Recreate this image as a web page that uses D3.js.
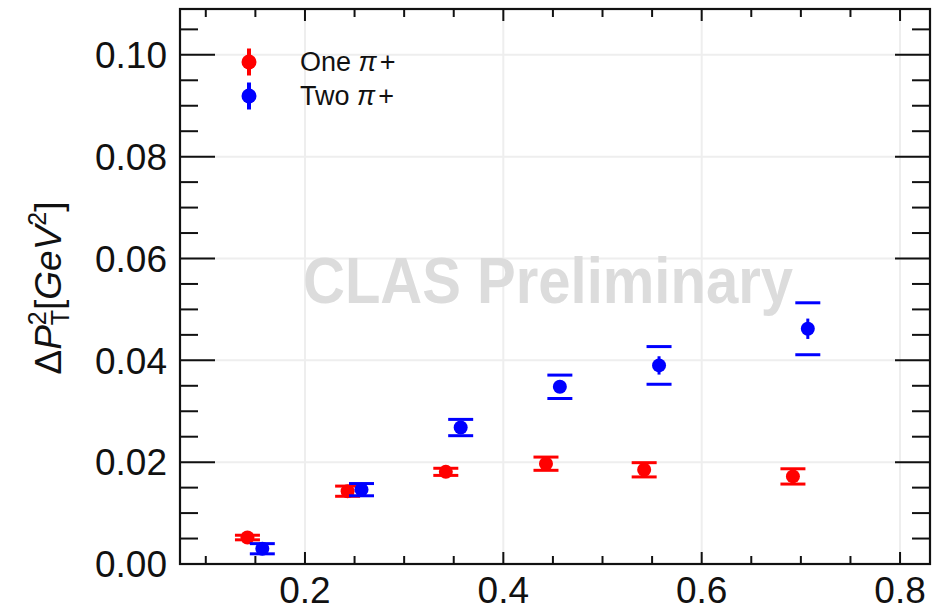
<!DOCTYPE html>
<html>
<head>
<meta charset="utf-8">
<script src="https://cdn.jsdelivr.net/npm/d3@7"></script>
<style>
  html, body { margin: 0; padding: 0; background: #fff; }
  svg { display: block; }
  text { font-family: "Liberation Sans", Arial, Helvetica, sans-serif; }
</style>
</head>
<body>
<script>
// Mean x of each bin
const xOnePi = [0.142, 0.243, 0.342, 0.443, 0.542, 0.692];
const xTwoPi = [0.157, 0.257, 0.357, 0.457, 0.557, 0.707];
// Delta P_T^2 values [GeV^2]
const yOnePi = [0.0052, 0.0143, 0.0181, 0.0197, 0.0185, 0.0172];
const yTwoPi = [0.0030, 0.0146, 0.0268, 0.0348, 0.0390, 0.0462];
// statistical errors
const statOnePi = [0.0004, 0.0005, 0.0005, 0.0006, 0.0006, 0.0008];
const statTwoPi = [0.0005, 0.0006, 0.0008, 0.0010, 0.0018, 0.0020];
// systematic errors (drawn as brackets)
const sysOnePi = [0.00045, 0.0010, 0.0007, 0.0013, 0.0014, 0.0015];
const sysTwoPi = [0.0010, 0.0012, 0.0016, 0.0023, 0.0037, 0.0051];

const xTickLabels = [0.2, 0.4, 0.6, 0.8];
const yTickLabels = [0.00, 0.02, 0.04, 0.06, 0.08, 0.10];
const seriesNames = ["One", "Two"];

const W = 933, H = 613;
const padL = 180, padR = 930, padT = 9, padB = 564;

const svg = d3.select("body").append("svg").attr("width", W).attr("height", H);

const x = d3.scaleLinear().domain([0.074, 0.8302]).range([padL, padR]);
const y = d3.scaleLinear().domain([0, 0.109]).range([padB, padT]);

// grid
const grid = svg.append("g").attr("stroke", "#eeeeee").attr("stroke-width", 2);
grid.selectAll("line.gx").data(xTickLabels).join("line")
  .attr("x1", d => x(d)).attr("x2", d => x(d)).attr("y1", padT).attr("y2", padB);
grid.selectAll("line.gy").data(yTickLabels.filter(d => d > 0)).join("line")
  .attr("y1", d => y(d)).attr("y2", d => y(d)).attr("x1", padL).attr("x2", padR);

// watermark
svg.append("text")
  .attr("x", 303).attr("y", 303)
  .attr("textLength", 490).attr("lengthAdjust", "spacingAndGlyphs")
  .attr("font-size", 65).attr("font-weight", "bold").attr("fill", "#dcdcdc")
  .text("CLAS Preliminary");

// frame ticks (inside, on all four sides)
const minorX = d3.range(0.1, 0.8301, 0.05).map(v => +v.toFixed(3));
const minorY = d3.range(0.005, 0.1051, 0.005).map(v => +v.toFixed(3));
const isMajorX = v => Math.abs(v / 0.2 - Math.round(v / 0.2)) < 1e-6;
const isMajorY = v => Math.abs(v / 0.02 - Math.round(v / 0.02)) < 1e-6;

const ticks = svg.append("g").attr("stroke", "#111").attr("stroke-width", 2);
ticks.append("g").selectAll("line").data(minorX).join("line")
  .attr("x1", d => x(d)).attr("x2", d => x(d))
  .attr("y1", padB).attr("y2", d => padB - (isMajorX(d) ? 12 : 8));
ticks.append("g").selectAll("line").data(minorX).join("line")
  .attr("x1", d => x(d)).attr("x2", d => x(d))
  .attr("y1", padT).attr("y2", d => padT + (isMajorX(d) ? 12 : 8));
ticks.append("g").selectAll("line").data(minorY).join("line")
  .attr("y1", d => y(d)).attr("y2", d => y(d))
  .attr("x1", padL).attr("x2", d => padL + (isMajorY(d) ? 35 : 18));
ticks.append("g").selectAll("line").data(minorY).join("line")
  .attr("y1", d => y(d)).attr("y2", d => y(d))
  .attr("x1", padR).attr("x2", d => padR - (isMajorY(d) ? 35 : 18));

svg.append("rect")
  .attr("x", padL).attr("y", padT).attr("width", padR - padL).attr("height", padB - padT)
  .attr("fill", "none").attr("stroke", "#111").attr("stroke-width", 2.2);

// tick labels
svg.append("g").selectAll("text").data(xTickLabels).join("text")
  .attr("x", d => x(d)).attr("y", 603)
  .attr("text-anchor", "middle").attr("font-size", 37).attr("fill", "#111")
  .text(d => d3.format(".1f")(d));
svg.append("g").selectAll("text").data(yTickLabels).join("text")
  .attr("x", 167).attr("y", d => y(d) + 13.3)
  .attr("text-anchor", "end").attr("font-size", 37).attr("fill", "#111")
  .text(d => d3.format(".2f")(d));

// y axis title: Delta P_T^2 [GeV^2]
const yt = svg.append("text")
  .attr("transform", "translate(61,288) rotate(-90)")
  .attr("text-anchor", "middle").attr("font-size", 37).attr("fill", "#111");
yt.append("tspan").text("\u0394");
yt.append("tspan").attr("font-style", "italic").text("P");
yt.append("tspan").attr("font-size", 25).attr("dy", -15).text("2");
yt.append("tspan").attr("font-size", 25).attr("dx", -14).attr("dy", 23).text("T");
yt.append("tspan").attr("dy", -8).text("[");
yt.append("tspan").attr("font-style", "italic").text("GeV");
yt.append("tspan").attr("font-size", 25).attr("dy", -15).text("2");
yt.append("tspan").attr("dy", 15).text("]");

// data points
function drawSeries(xs, ys, stat, sys, color) {
  const g = svg.append("g");
  const idx = d3.range(xs.length);
  g.append("g").selectAll("line").data(idx).join("line")
    .attr("x1", i => x(xs[i])).attr("x2", i => x(xs[i]))
    .attr("y1", i => y(ys[i] - stat[i])).attr("y2", i => y(ys[i] + stat[i]))
    .attr("stroke", color).attr("stroke-width", 3);
  [-1, 1].forEach(s => {
    g.append("g").selectAll("line").data(idx).join("line")
      .attr("x1", i => x(xs[i]) - 12.5).attr("x2", i => x(xs[i]) + 12.5)
      .attr("y1", i => y(ys[i] + s * sys[i])).attr("y2", i => y(ys[i] + s * sys[i]))
      .attr("stroke", color).attr("stroke-width", 3);
  });
  g.append("g").selectAll("circle").data(idx).join("circle")
    .attr("cx", i => x(xs[i])).attr("cy", i => y(ys[i])).attr("r", 7)
    .attr("fill", color);
}
drawSeries(xOnePi, yOnePi, statOnePi, sysOnePi, "#ff0000");
drawSeries(xTwoPi, yTwoPi, statTwoPi, sysTwoPi, "#0000ff");

// legend
const legend = svg.append("g");
[["#ff0000", 62, 71], ["#0000ff", 96, 104.5]].forEach(([c, cy, by], i) => {
  legend.append("line").attr("x1", 249).attr("x2", 249)
    .attr("y1", cy - 13.5).attr("y2", cy + 13.5)
    .attr("stroke", c).attr("stroke-width", 4);
  legend.append("circle").attr("cx", 249).attr("cy", cy).attr("r", 7.5).attr("fill", c);
  const t = legend.append("text").attr("x", 300).attr("y", by)
    .attr("font-size", 27).attr("fill", "#111");
  t.append("tspan").text(seriesNames[i] + " ");
  t.append("tspan").attr("font-style", "italic").text("\u03c0");
  t.append("tspan").attr("dx", 3).text("+");
});
</script>
</body>
</html>
